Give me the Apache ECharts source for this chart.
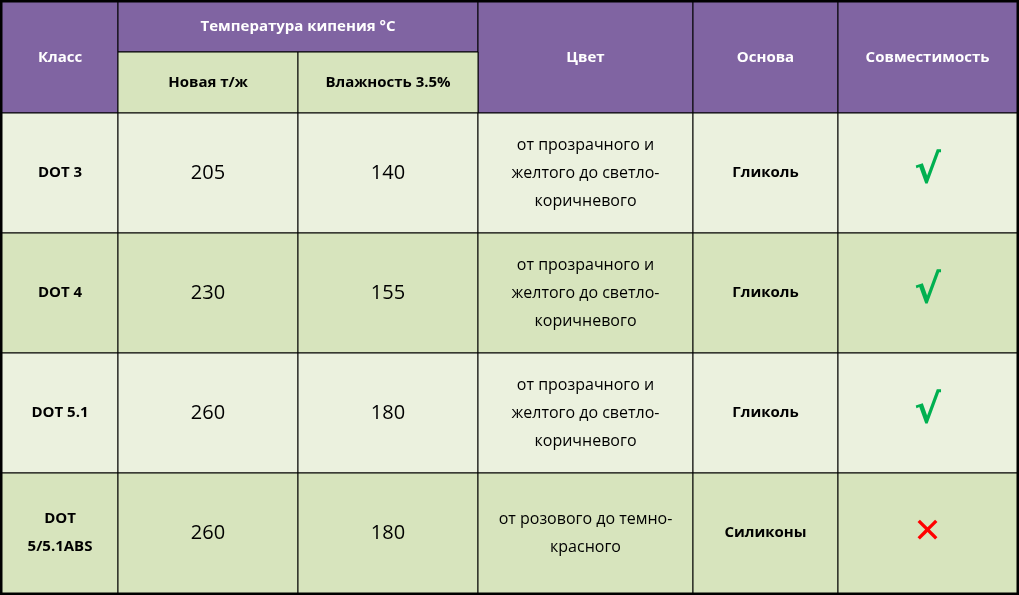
<!DOCTYPE html>
<html><head><meta charset="utf-8">
<script src="https://cdn.jsdelivr.net/npm/echarts@6/dist/echarts.min.js"></script>
<style>html,body{margin:0;padding:0;background:#fff}#c{width:1019px;height:595px}</style>
</head><body><div id="c"></div>
<script>
// table content
const headers = ['Класс', 'Температура кипения °C', 'Цвет', 'Основа', 'Совместимость'];
const subHeaders = ['Новая т/ж', 'Влажность 3.5%'];
const classes = ['DOT 3', 'DOT 4', 'DOT 5.1', 'DOT\n5/5.1ABS'];
const boilNew = [205, 230, 260, 260];
const boilWet = [140, 155, 180, 180];
const colours = [
    'от прозрачного и\nжелтого до светло-\nкоричневого',
    'от прозрачного и\nжелтого до светло-\nкоричневого',
    'от прозрачного и\nжелтого до светло-\nкоричневого',
    'от розового до темно-\nкрасного'
];
const bases = ['Гликоль', 'Гликоль', 'Гликоль', 'Силиконы'];
const compatible = [true, true, true, false];

// layout (cell edges in table units)
const colEdges = [2, 118, 298, 478, 693, 838, 1017];
const rowEdges = [2, 52, 113, 233, 353, 473, 593];

const PURPLE = '#8064a2', DARK = '#d7e4bd', LIGHT = '#ebf1de';
const cells = [];
function cell(c0, c1, r0, r1, text, fill, style) {
    cells.push({ value: [colEdges[c0], colEdges[c1], rowEdges[r0], rowEdges[r1]], text: String(text), fill: fill, style: style });
}
const hStyle = { fill: '#fff', font: 'bold 15px "Open Sans", sans-serif' };
const bStyle = { fill: '#000', font: 'bold 15px "Open Sans", sans-serif' };
const nStyle = { fill: '#000', font: '20px "Open Sans", sans-serif' };
const tStyle = { fill: '#000', font: '16px "Open Sans", sans-serif', lineHeight: 28 };

cell(0, 1, 0, 2, headers[0], PURPLE, hStyle);
cell(1, 3, 0, 1, headers[1], PURPLE, hStyle);
cell(3, 4, 0, 2, headers[2], PURPLE, hStyle);
cell(4, 5, 0, 2, headers[3], PURPLE, hStyle);
cell(5, 6, 0, 2, headers[4], PURPLE, hStyle);
cell(1, 2, 1, 2, subHeaders[0], DARK, bStyle);
cell(2, 3, 1, 2, subHeaders[1], DARK, bStyle);
classes.forEach(function (c, i) {
    const r = i + 2, fill = i % 2 ? DARK : LIGHT;
    cell(0, 1, r, r + 1, c, fill, Object.assign({ lineHeight: 28 }, bStyle));
    cell(1, 2, r, r + 1, boilNew[i], fill, nStyle);
    cell(2, 3, r, r + 1, boilWet[i], fill, nStyle);
    cell(3, 4, r, r + 1, colours[i], fill, tStyle);
    cell(4, 5, r, r + 1, bases[i], fill, bStyle);
    cell(5, 6, r, r + 1, compatible[i] ? '√' : '✕', fill, compatible[i]
        ? { fill: '#00b050', font: 'bold 40px "DejaVu Sans", sans-serif' }
        : { fill: '#ff0000', font: 'bold 34px "DejaVu Sans", sans-serif' });
});

const chart = echarts.init(document.getElementById('c'));
chart.setOption({
    animation: false,
    grid: { left: 0, right: 0, top: 0, bottom: 0 },
    xAxis: { type: 'value', min: 0, max: 1019, show: false },
    yAxis: { type: 'value', min: 0, max: 595, inverse: true, show: false },
    series: [{
        type: 'custom',
        data: cells,
        renderItem: function (params, api) {
            const d = cells[params.dataIndex];
            const p0 = api.coord([api.value(0), api.value(2)]);
            const p1 = api.coord([api.value(1), api.value(3)]);
            return {
                type: 'group',
                children: [{
                    type: 'rect',
                    shape: { x: p0[0], y: p0[1], width: p1[0] - p0[0], height: p1[1] - p0[1] },
                    style: { fill: d.fill, stroke: '#000', lineWidth: 1 }
                }, {
                    type: 'text',
                    x: (p0[0] + p1[0]) / 2, y: (p0[1] + p1[1]) / 2,
                    style: Object.assign({ text: d.text, align: 'center', verticalAlign: 'middle' }, d.style)
                }]
            };
        }
    }],
    graphic: [{
        type: 'rect', shape: { x: 1, y: 1, width: 1017, height: 593 },
        style: { fill: 'none', stroke: '#000', lineWidth: 3 }
    }]
});
</script></body></html>
